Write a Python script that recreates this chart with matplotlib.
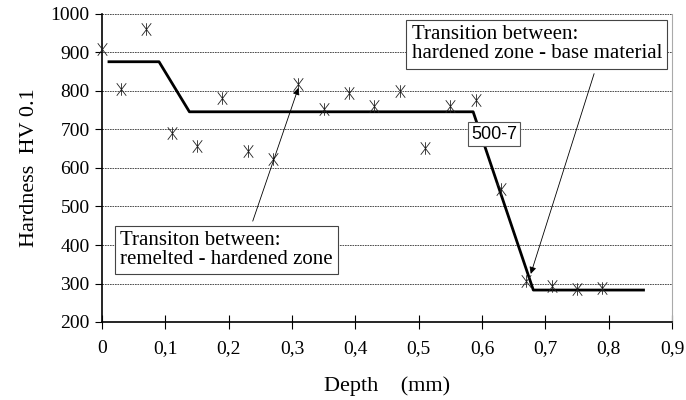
import matplotlib
matplotlib.use("Agg")
import matplotlib.pyplot as plt
from matplotlib.path import Path
from matplotlib.ticker import FuncFormatter

# measured hardness values
depth = [0.0, 0.03, 0.07, 0.11, 0.15, 0.19, 0.23, 0.27, 0.31, 0.35, 0.39,
         0.43, 0.47, 0.51, 0.55, 0.59, 0.63, 0.67, 0.71, 0.75, 0.79]
hardness = [908, 804, 960, 690, 658, 783, 644, 623, 817, 754, 795,
            761, 800, 651, 761, 777, 545, 306, 294, 286, 289]

# fitted profile 500-7
fit_depth = [0.011, 0.09, 0.138, 0.586, 0.681, 0.855]
fit_hardness = [876, 876, 746, 746, 283, 283]

xticks = [0, 0.1, 0.2, 0.3, 0.4, 0.5, 0.6, 0.7, 0.8, 0.9]
yticks = [200, 300, 400, 500, 600, 700, 800, 900, 1000]

plt.rcParams['font.family'] = ['Liberation Serif', 'DejaVu Serif']

# excel-like star marker: an x with a vertical bar
star = Path([(-0.38, -0.5), (0.38, 0.5), (-0.38, 0.5), (0.38, -0.5), (0, -0.5), (0, 0.5)],
            [Path.MOVETO, Path.LINETO, Path.MOVETO, Path.LINETO, Path.MOVETO, Path.LINETO])

fig = plt.figure(figsize=(6.86, 4.0), dpi=100)
ax = fig.add_axes([0.1487, 0.195, 0.8309, 0.77])

for y in yticks[1:]:
    ax.axhline(y, color='#333333', lw=0.6, ls=(0, (2, 1)), zorder=1)

ax.plot(fit_depth, fit_hardness, color='black', lw=2, zorder=3)
ax.plot(depth, hardness, ls='none', marker=star, ms=9, mew=0.6,
        color='#222222', zorder=4, clip_on=False)

ax.text(0.619, 688, '500-7', family='Liberation Sans', fontsize=13,
        ha='center', va='center', zorder=5,
        bbox=dict(boxstyle='square,pad=0.18', fc='white', ec='#555555', lw=0.8))

box = dict(boxstyle='square,pad=0.25', fc='white', ec='#444444', lw=0.8)
ax.text(0.029, 387, 'Transiton between:\nremelted - hardened zone', fontsize=15,
        ha='left', va='center', linespacing=1.0, zorder=6, bbox=box)
ax.text(0.489, 921, 'Transition between:\nhardened zone - base material', fontsize=15,
        ha='left', va='center', linespacing=1.0, zorder=6, bbox=box)

arrow = dict(arrowstyle='-|>', color='black', lw=0.6,
             shrinkA=0, shrinkB=0, mutation_scale=10)
ax.annotate('', xy=(0.310, 808), xytext=(0.238, 462), arrowprops=arrow, zorder=5)
ax.annotate('', xy=(0.677, 325), xytext=(0.777, 845), arrowprops=arrow, zorder=5)

ax.set_xlim(0, 0.9)
ax.set_ylim(200, 1000)
ax.set_xticks(xticks)
ax.set_yticks(yticks)
ax.xaxis.set_major_formatter(FuncFormatter(
    lambda v, p: '0' if v == 0 else ('%.1f' % v).replace('.', ',')))
ax.tick_params(axis='x', direction='inout', length=10, width=0.8, pad=8, labelsize=14)
ax.tick_params(axis='y', direction='out', length=5, width=0.8, pad=4, labelsize=14)

ax.spines['top'].set_visible(False)
ax.spines['right'].set_color('#aaaaaa')
ax.spines['left'].set_linewidth(1.2)
ax.spines['bottom'].set_linewidth(1.2)

ax.set_xlabel('Depth    (mm)', fontsize=16, labelpad=14)
ax.set_ylabel('Hardness  HV 0.1', fontsize=16, labelpad=8)

fig.savefig('out.png', dpi=100)
